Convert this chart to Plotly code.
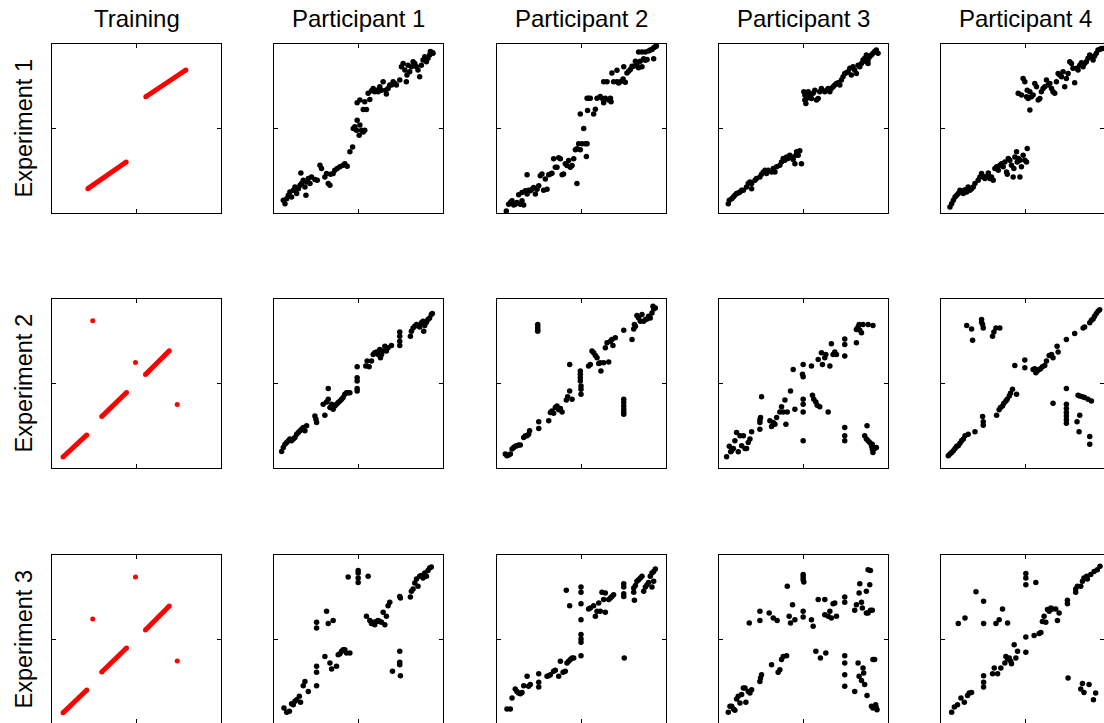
import plotly.graph_objects as go

# ---------------------------------------------------------------------------
# Labels
# ---------------------------------------------------------------------------
col_titles = ["Training", "Participant 1", "Participant 2", "Participant 3", "Participant 4"]
row_titles = ["Experiment 1", "Experiment 2", "Experiment 3"]
tick_values = [50]

# ---------------------------------------------------------------------------
# Training stimuli: continuous segments (start, end) and isolated items
# ---------------------------------------------------------------------------
train_e1_segments = [((21.2, 14.4), (43.9, 30.2)), ((55.5, 68.8), (79.2, 84.6))]
train_e1_points = []
train_e2_segments = [((6.5, 6.5), (20.6, 19.6)), ((29.4, 30.4), (44.1, 44.7)), ((55.3, 55.3), (69.4, 69.4))]
train_e2_points = [(24.1, 87.1), (49.4, 62.4), (74.1, 37.6)]
train_e3_segments = [((6.5, 6.6), (20.6, 20.1)), ((29.4, 30.8), (44.1, 45.0)), ((55.3, 55.6), (69.4, 69.8))]
train_e3_points = [(24.1, 62.1), (49.4, 87.0), (74.1, 37.3)]

# ---------------------------------------------------------------------------
# Participant responses (x, y) per experiment
# ---------------------------------------------------------------------------
p1_e1 = [(5.5, 7.5), (6.5, 5.5), (7.5, 8.5), (8.5, 10.5), (9.4, 12.5), (10.4, 9.5), (11.4, 13.4), (12.4, 15.4),
         (13.4, 11.5), (14.4, 14.4), (15.4, 16.4), (15.9, 23.7), (16.3, 17.4), (17.3, 19.4), (18.3, 15.4),
         (18.9, 10.5), (19.3, 18.4), (20.3, 20.4), (21.3, 17.4), (22.2, 21.3), (24.2, 19.8), (25.6, 19.4),
         (27.2, 28.3), (28.1, 26.3), (30.1, 21.3), (31.1, 23.3), (32.1, 17.4), (33.1, 16.4), (33.5, 22.9),
         (35.0, 23.3), (36.0, 25.3), (37.4, 26.3), (39.0, 27.3), (40.9, 28.3), (41.9, 29.2), (43.3, 27.7),
         (44.9, 36.2), (46.5, 39.1), (46.9, 50.0), (47.8, 51.0), (48.8, 49.0), (49.2, 54.9), (50.4, 46.0),
         (50.8, 52.0), (51.8, 49.0), (52.8, 48.0), (53.7, 49.0), (49.2, 65.2), (50.8, 66.8), (52.8, 61.3),
         (53.7, 65.8), (54.7, 61.3), (55.7, 70.8), (56.7, 67.2), (57.7, 72.3), (58.7, 73.7), (59.6, 71.7),
         (60.6, 72.7), (61.6, 71.7), (62.6, 74.7), (63.6, 72.7), (64.6, 77.7), (66.1, 72.7), (66.5, 70.4),
         (67.5, 73.7), (68.5, 75.7), (69.5, 75.7), (70.5, 77.7), (71.5, 76.7), (72.4, 75.7), (74.4, 78.7),
         (75.4, 86.6), (76.4, 88.5), (77.4, 84.6), (78.3, 77.7), (78.7, 81.6), (79.3, 87.5), (80.3, 83.6),
         (81.3, 86.6), (82.3, 89.5), (83.3, 88.5), (84.3, 86.6), (85.2, 84.6), (86.2, 80.6), (87.2, 87.5),
         (88.2, 90.5), (89.2, 92.5), (90.2, 89.5), (91.1, 91.5), (92.1, 93.5), (92.5, 95.5), (93.7, 94.9),
         (94.1, 94.5)]

p2_e1 = [(5.5, 1.2), (6.9, 5.2), (7.9, 6.2), (8.9, 7.2), (9.9, 4.8), (10.8, 5.2), (11.8, 6.2), (12.8, 10.8),
         (13.8, 5.2), (14.8, 7.2), (15.8, 4.8), (14.8, 12.2), (16.8, 13.1), (17.8, 22.7), (17.8, 11.2),
         (18.7, 13.5), (19.7, 13.1), (20.7, 14.1), (21.7, 15.1), (22.7, 11.2), (23.7, 14.1), (24.7, 16.1),
         (25.6, 22.1), (26.6, 23.1), (27.6, 13.5), (28.6, 20.1), (29.6, 14.1), (30.6, 22.7), (31.6, 23.1),
         (32.5, 23.5), (33.5, 32.1), (34.5, 27.1), (35.5, 27.1), (36.5, 32.7), (37.5, 32.1), (38.5, 22.7),
         (39.4, 23.1), (40.4, 29.1), (41.4, 28.1), (42.4, 31.1), (43.4, 27.1), (44.4, 28.1), (45.4, 32.1),
         (46.4, 37.5), (47.3, 17.5), (47.3, 38.0), (48.3, 41.0), (49.3, 37.5), (50.3, 41.0), (51.3, 50.0),
         (52.3, 41.0), (53.3, 41.0), (52.9, 33.5), (49.3, 58.6), (53.3, 67.9), (53.6, 60.6), (54.2, 67.9),
         (55.2, 67.9), (57.2, 58.6), (58.2, 61.4), (59.2, 67.9), (61.1, 68.9), (62.1, 67.9), (63.1, 65.3),
         (64.1, 67.9), (66.1, 66.9), (67.1, 67.9), (67.5, 65.9), (63.1, 77.7), (65.1, 77.7), (68.0, 82.9),
         (69.0, 77.7), (71.0, 84.5), (71.0, 77.7), (72.0, 76.9), (73.0, 77.7), (74.6, 79.3), (75.9, 77.3),
         (75.0, 86.5), (76.9, 82.9), (77.9, 83.9), (78.9, 84.9), (79.9, 86.9), (80.9, 86.9), (81.9, 89.8),
         (82.8, 87.8), (83.8, 85.9), (84.8, 89.8), (85.8, 86.5), (86.8, 91.2), (87.8, 90.4), (88.8, 90.8),
         (83.8, 95.2), (85.8, 95.2), (87.8, 95.2), (89.7, 95.8), (90.7, 96.4), (91.7, 96.8), (92.7, 97.8),
         (93.7, 98.4), (94.3, 98.8), (92.7, 91.2)]

p3_e1 = [(5.5, 5.5), (6.1, 7.5), (7.5, 8.5), (8.5, 9.5), (9.4, 10.5), (10.4, 11.5), (11.4, 11.9), (12.4, 12.5),
         (13.4, 13.4), (14.4, 13.4), (16.3, 15.4), (17.3, 17.4), (18.3, 18.4), (19.3, 17.4), (19.3, 14.4),
         (21.3, 19.4), (22.2, 20.4), (24.2, 21.3), (25.2, 22.9), (26.2, 24.3), (27.2, 25.3), (28.1, 23.3),
         (29.1, 25.3), (31.1, 24.3), (32.1, 26.3), (33.1, 24.3), (34.1, 27.3), (36.0, 28.3), (37.0, 30.2),
         (38.0, 32.2), (39.0, 31.2), (40.0, 33.2), (40.9, 32.2), (41.9, 34.2), (42.9, 33.2), (43.9, 31.6),
         (44.9, 29.2), (45.5, 34.2), (45.9, 36.2), (46.9, 34.2), (47.8, 36.8), (48.8, 29.2),
         (50.2, 71.7), (50.8, 69.8), (50.8, 66.8), (51.4, 64.8), (51.8, 67.8), (52.8, 71.7), (53.7, 69.8),
         (54.7, 67.8), (55.7, 70.8), (56.7, 72.7), (57.7, 66.8), (58.7, 67.8), (59.6, 71.7), (60.6, 73.7),
         (62.6, 71.7), (63.6, 72.7), (64.6, 73.7), (65.6, 71.7), (66.5, 73.7), (67.5, 74.7), (68.5, 75.7),
         (69.5, 76.7), (70.5, 77.1), (71.5, 75.7), (72.4, 78.7), (73.4, 80.6), (74.4, 82.6), (75.4, 83.0),
         (76.4, 83.6), (77.4, 85.6), (78.3, 81.6), (79.3, 86.6), (80.3, 84.6), (81.3, 82.6), (82.3, 87.5),
         (83.3, 86.6), (84.3, 88.5), (85.2, 90.5), (86.2, 91.5), (87.2, 89.5), (88.2, 90.5), (89.2, 92.5),
         (90.2, 93.5), (91.1, 94.5), (92.1, 95.5), (93.1, 96.4), (94.1, 94.5), (87.2, 93.5), (88.2, 88.5)]

p4_e1 = [(5.3, 3.6), (6.3, 5.5), (7.3, 7.5), (8.3, 9.5), (9.3, 10.5), (10.2, 11.5), (11.2, 13.4), (12.2, 13.0),
         (13.2, 11.5), (14.2, 13.8), (15.2, 12.5), (16.1, 15.4), (17.1, 13.4), (18.1, 14.4), (19.1, 15.4),
         (20.1, 17.4), (22.0, 19.4), (23.0, 21.3), (24.0, 23.3), (25.0, 21.3), (26.0, 20.4), (27.0, 21.7),
         (28.0, 23.7), (28.9, 20.4), (29.9, 21.3), (30.9, 19.4), (31.9, 26.3), (32.9, 27.3), (33.9, 25.3),
         (34.8, 28.3), (35.8, 29.2), (36.8, 27.3), (37.8, 30.2), (38.8, 24.3), (39.2, 22.9), (39.8, 32.2),
         (40.7, 31.2), (41.7, 28.3), (42.7, 21.3), (43.1, 26.3), (43.7, 33.2), (44.7, 36.2), (45.1, 30.2),
         (45.7, 32.2), (46.7, 31.2), (46.7, 21.3), (47.6, 27.3), (48.6, 34.2), (49.6, 31.2), (50.6, 30.2),
         (51.0, 38.1),
         (45.7, 70.8), (47.6, 69.8), (48.6, 79.6), (49.6, 77.7), (50.6, 68.8), (51.0, 72.7), (51.6, 67.8),
         (52.6, 60.9), (52.6, 71.7), (53.5, 68.8), (54.5, 69.8), (55.5, 76.7), (56.5, 74.7), (57.5, 66.8),
         (58.5, 67.8), (59.4, 71.7), (60.4, 73.7), (61.4, 74.7), (62.4, 78.7), (63.4, 75.7), (64.4, 76.7),
         (65.4, 73.7), (66.3, 71.7), (67.3, 70.8), (68.3, 77.7), (69.3, 82.6), (70.3, 81.6), (71.3, 80.6),
         (72.2, 83.6), (73.2, 74.7), (74.2, 79.6), (75.2, 82.6), (76.2, 89.5), (77.2, 88.5), (78.1, 85.6),
         (79.1, 77.1), (80.1, 85.6), (81.1, 84.6), (82.1, 87.5), (83.1, 88.9), (84.1, 86.6), (85.0, 88.5),
         (86.0, 89.5), (87.0, 91.5), (88.0, 93.5), (89.0, 92.5), (90.0, 90.5), (90.9, 92.9), (91.9, 94.5),
         (92.9, 96.4), (93.9, 96.8), (94.9, 97.4), (95.9, 97.4)]

p1_e2 = [(4.5, 9.8), (5.5, 12.2), (6.5, 14.1), (7.5, 15.1), (8.5, 16.1), (9.4, 17.1), (10.4, 16.1), (11.4, 17.1),
         (12.4, 18.1), (13.4, 20.0), (14.4, 21.0), (15.4, 22.0), (16.3, 23.0), (17.3, 24.0), (18.3, 22.0),
         (19.3, 25.0), (24.2, 30.8), (24.8, 28.9), (25.2, 26.9), (30.1, 31.2), (29.1, 37.7), (31.1, 39.1),
         (32.1, 47.0), (32.1, 40.7), (33.1, 35.8), (34.1, 37.7), (35.0, 34.8), (36.0, 36.7), (37.0, 37.7),
         (38.0, 38.7), (39.0, 39.7), (40.0, 40.7), (40.9, 41.7), (41.9, 43.6), (42.9, 44.6), (43.9, 44.6),
         (44.9, 44.6), (49.2, 59.9), (49.2, 53.4), (49.2, 51.5), (49.2, 47.0), (49.2, 45.6), (54.3, 60.3),
         (55.1, 63.3), (56.3, 59.9), (57.7, 63.3), (58.7, 67.2), (59.6, 68.2), (60.6, 68.6), (61.6, 67.2),
         (62.6, 70.1), (63.0, 65.2), (63.6, 67.2), (64.6, 69.2), (65.6, 72.1), (66.5, 69.2), (67.5, 71.1),
         (69.5, 72.5), (74.4, 80.4), (74.4, 78.0), (74.4, 75.0), (74.4, 72.5), (80.7, 78.0), (81.3, 80.9),
         (82.3, 82.9), (83.3, 83.9), (84.3, 84.9), (85.2, 84.3), (86.2, 83.5), (87.2, 85.9), (88.2, 86.8),
         (88.6, 80.9), (89.2, 84.3), (90.2, 86.2), (91.1, 87.8), (92.1, 88.8), (93.1, 90.8), (93.7, 91.4)]

p2_e2 = [(4.9, 8.3), (5.9, 7.3), (6.9, 7.7), (7.9, 8.3), (8.9, 11.2), (9.9, 12.2), (10.8, 12.8), (11.8, 13.2),
         (12.8, 13.6), (13.8, 13.6), (15.8, 18.1), (16.8, 19.1), (17.8, 19.1), (18.7, 20.0), (19.3, 22.0),
         (24.7, 27.3), (24.7, 23.4), (30.6, 27.9), (31.6, 32.8), (32.5, 33.8), (33.5, 32.4), (34.5, 35.8),
         (35.5, 36.7), (36.5, 34.4), (37.5, 35.2), (38.5, 33.2), (41.0, 40.3), (41.8, 42.2), (43.0, 45.6),
         (44.4, 40.7), (43.0, 61.3), (49.3, 57.4), (49.3, 55.4), (49.3, 53.4), (49.3, 51.5), (49.7, 48.5),
         (49.7, 46.6), (49.7, 43.6), (54.2, 60.3), (55.2, 61.3), (56.2, 69.2), (57.2, 68.2), (58.2, 66.6),
         (59.2, 65.2), (60.2, 61.9), (61.1, 62.3), (61.5, 57.4), (63.1, 62.3), (64.1, 71.1), (65.1, 74.1),
         (66.1, 62.7), (67.1, 75.0), (68.0, 76.0), (68.6, 72.5), (70.0, 77.0), (75.0, 81.5), (79.9, 76.0),
         (80.9, 82.3), (81.3, 84.9), (81.9, 83.9), (82.8, 90.2), (83.8, 88.8), (84.8, 86.8), (85.8, 90.8),
         (86.8, 86.8), (87.8, 87.8), (88.8, 88.2), (89.7, 89.8), (90.7, 88.8), (91.7, 91.7), (92.3, 95.7),
         (92.7, 94.1), (93.7, 94.7), (24.1, 84.9), (24.1, 83.5), (24.1, 81.9), (24.1, 80.9), (75.0, 40.7),
         (75.0, 38.7), (75.0, 36.7), (75.0, 34.8), (75.0, 33.2), (75.0, 31.8)]

p3_e2 = [(4.5, 6.7), (6.1, 12.8), (6.9, 9.6), (7.5, 10.2), (8.5, 11.6), (9.4, 16.1), (10.4, 21.0), (11.4, 9.6),
         (12.4, 19.1), (13.4, 13.2), (14.4, 19.1), (15.4, 11.6), (16.3, 11.6), (17.3, 15.1), (18.3, 17.1),
         (19.3, 21.4), (24.2, 23.0), (24.2, 26.9), (24.6, 29.9), (24.2, 28.5), (25.2, 42.2), (30.1, 27.9),
         (31.1, 24.6), (32.1, 26.9), (33.1, 25.9), (34.1, 29.9), (36.0, 33.2), (37.0, 36.3), (38.0, 33.2),
         (39.0, 40.3), (39.6, 25.9), (40.4, 33.2), (42.3, 45.6), (43.9, 58.3), (44.9, 34.8), (49.8, 61.3),
         (49.4, 55.4), (49.8, 54.0), (49.8, 40.7), (49.8, 37.7), (49.8, 33.2), (49.8, 16.1), (54.7, 60.3),
         (55.3, 43.0), (56.1, 40.7), (57.3, 39.1), (58.1, 37.1), (58.7, 64.2), (59.6, 36.3), (60.6, 68.2),
         (61.2, 61.3), (62.6, 65.2), (63.2, 67.2), (64.6, 33.2), (65.6, 60.3), (66.5, 73.5), (67.5, 67.2),
         (68.5, 68.6), (69.5, 67.2), (74.4, 76.4), (74.4, 73.1), (74.4, 66.2), (74.4, 24.0), (74.4, 19.1),
         (74.4, 16.1), (81.3, 81.9), (81.3, 74.1), (81.7, 82.3), (82.3, 83.5), (82.9, 84.9), (83.3, 81.5),
         (84.3, 80.0), (85.2, 84.9), (88.2, 84.9), (91.1, 84.3), (86.2, 19.1), (87.2, 17.1), (87.6, 25.0),
         (88.2, 16.1), (89.2, 15.1), (90.2, 13.2), (90.7, 11.2), (91.1, 9.2), (92.1, 11.6), (93.1, 12.2),
         (90.7, 14.1)]

p4_e2 = [(4.3, 7.3), (5.3, 8.3), (6.3, 9.2), (7.3, 10.2), (8.3, 11.6), (9.3, 12.8), (10.2, 13.2), (11.2, 14.7),
         (12.2, 16.1), (13.2, 17.1), (14.2, 19.1), (16.1, 20.0), (20.1, 21.4), (24.6, 30.5), (25.0, 27.3),
         (25.0, 25.3), (32.9, 31.2), (34.4, 34.4), (35.2, 35.8), (36.4, 36.7), (37.2, 38.3), (38.4, 39.7),
         (39.2, 40.7), (40.4, 42.6), (41.1, 44.2), (42.3, 46.6), (44.7, 43.6), (43.7, 60.7), (49.6, 63.9),
         (49.6, 59.3), (54.5, 58.3), (55.5, 58.7), (56.1, 56.4), (56.9, 57.4), (58.1, 58.3), (58.9, 58.7),
         (60.0, 59.9), (61.4, 60.7), (62.4, 63.3), (64.0, 66.6), (65.4, 67.2), (66.3, 65.2), (68.7, 72.1),
         (69.3, 68.6), (74.2, 76.0), (79.1, 79.6), (84.1, 82.9), (85.0, 83.5), (88.0, 85.9), (89.0, 87.4),
         (90.0, 88.2), (90.9, 89.8), (91.9, 91.4), (92.9, 92.7), (93.9, 93.7), (15.2, 84.3), (18.1, 82.3),
         (18.7, 75.6), (24.0, 87.8), (24.0, 86.2), (24.6, 84.9), (25.0, 82.9), (30.5, 78.0), (31.3, 80.4),
         (32.5, 82.9), (34.8, 82.9), (66.3, 38.3), (74.2, 47.0), (74.2, 37.7), (74.2, 35.2), (74.2, 32.8),
         (74.2, 30.8), (74.2, 28.5), (74.2, 26.5), (81.1, 43.0), (82.1, 42.6), (83.7, 42.2), (85.0, 41.7),
         (87.0, 40.7), (89.0, 39.7), (80.5, 27.3), (81.7, 21.4), (82.1, 31.2), (88.0, 18.7), (88.0, 14.1)]

p1_e3 = [(5.9, 9.5), (7.5, 6.9), (9.1, 7.5), (10.4, 12.0), (11.4, 11.4), (12.4, 13.4), (13.4, 14.4), (15.0, 16.4),
         (15.7, 12.8), (17.3, 22.7), (18.3, 25.2), (20.3, 19.3), (25.2, 22.7), (25.2, 30.6), (25.2, 34.1),
         (30.1, 40.0), (33.1, 36.1), (34.1, 32.5), (37.0, 34.1), (38.0, 41.0), (39.0, 41.6), (40.0, 43.0),
         (40.9, 44.0), (41.9, 44.0), (42.9, 42.0), (44.9, 42.0), (25.2, 60.2), (25.2, 56.8), (31.1, 66.7),
         (32.1, 59.4), (35.0, 61.3), (43.9, 87.0), (49.8, 90.9), (49.8, 89.3), (49.8, 86.4), (49.8, 83.8),
         (55.7, 87.4), (54.7, 63.7), (56.7, 61.3), (57.7, 59.4), (58.7, 60.2), (59.6, 58.8), (60.6, 60.7),
         (61.6, 61.3), (62.6, 60.7), (63.6, 60.2), (64.6, 66.1), (65.6, 58.8), (66.5, 63.7), (67.5, 70.0),
         (68.5, 72.0), (74.4, 75.5), (74.8, 74.6), (80.7, 75.1), (81.3, 78.5), (82.3, 79.9), (83.3, 83.4),
         (84.3, 85.8), (85.2, 81.5), (86.2, 87.4), (87.2, 87.8), (88.2, 86.4), (89.2, 89.3), (90.2, 87.4),
         (91.1, 90.9), (92.1, 92.3), (93.1, 92.9), (70.1, 31.2), (74.4, 43.0), (74.4, 36.5), (74.4, 35.1),
         (74.8, 28.6)]

p2_e3 = [(5.9, 8.9), (7.9, 8.9), (8.9, 15.4), (10.8, 20.7), (11.8, 19.3), (12.8, 18.3), (13.8, 17.9), (14.8, 18.7),
         (15.8, 22.7), (17.8, 28.2), (18.7, 22.3), (19.7, 23.3), (24.7, 29.8), (24.7, 24.7), (24.7, 21.9),
         (29.6, 28.2), (30.6, 28.6), (31.6, 29.2), (33.5, 31.2), (34.5, 31.8), (36.5, 28.2), (37.5, 37.1),
         (39.1, 30.6), (40.4, 31.2), (41.4, 36.1), (42.4, 37.1), (43.4, 38.1), (44.4, 39.1), (45.4, 39.1),
         (49.7, 40.4), (49.7, 48.3), (49.7, 50.3), (49.7, 52.9), (49.7, 61.7), (49.7, 71.2), (49.7, 77.9),
         (49.7, 81.1), (41.0, 79.1), (43.0, 70.0), (54.2, 68.0), (55.2, 68.6), (57.2, 70.0), (58.2, 63.7),
         (59.2, 66.7), (60.2, 71.6), (61.1, 66.7), (62.1, 77.9), (63.1, 73.6), (64.1, 77.5), (64.1, 66.1),
         (66.1, 73.6), (67.1, 74.6), (68.0, 75.5), (69.0, 76.5), (75.0, 83.0), (75.0, 81.1), (75.0, 77.1),
         (75.0, 75.5), (75.3, 39.1), (80.9, 80.5), (80.9, 77.9), (81.3, 73.2), (81.9, 81.9), (82.8, 84.4),
         (83.8, 85.4), (84.8, 86.4), (85.8, 87.4), (86.8, 78.5), (87.8, 81.1), (88.8, 82.4), (89.7, 83.8),
         (90.7, 87.4), (91.7, 89.3), (92.7, 90.3), (93.7, 91.7), (91.7, 81.1), (92.7, 84.4)]

p3_e3 = [(5.5, 6.9), (6.5, 10.5), (7.5, 10.5), (8.5, 8.9), (9.4, 8.1), (10.4, 14.8), (11.4, 16.4), (12.4, 12.4),
         (13.4, 17.4), (14.4, 21.3), (15.4, 21.3), (15.9, 12.8), (17.3, 19.3), (18.3, 18.3), (19.3, 20.3),
         (24.2, 25.2), (24.6, 27.2), (25.2, 29.2), (31.1, 35.1), (35.0, 30.6), (36.0, 32.1), (37.0, 38.1),
         (38.0, 40.0), (40.0, 40.4), (17.9, 59.8), (24.2, 66.7), (24.2, 61.3), (29.7, 65.7), (32.1, 62.7),
         (34.4, 61.3), (40.4, 81.5), (41.5, 63.7), (42.3, 59.8), (43.5, 70.6), (44.9, 61.7), (49.8, 66.7),
         (49.8, 63.3), (49.8, 88.4), (49.8, 87.0), (49.8, 85.4), (50.2, 84.0), (54.7, 61.7), (55.7, 57.8),
         (57.3, 43.0), (58.7, 73.6), (60.0, 39.1), (62.6, 73.6), (62.6, 64.7), (63.2, 42.0), (64.6, 63.7),
         (65.6, 66.7), (66.5, 62.7), (67.5, 71.2), (68.5, 71.6), (69.5, 63.7), (74.4, 75.1), (74.4, 72.0),
         (74.4, 40.4), (74.4, 36.1), (74.4, 29.2), (74.4, 22.3), (80.3, 19.3), (80.3, 67.3), (81.3, 70.6),
         (82.3, 36.1), (82.9, 77.5), (83.3, 83.0), (82.9, 28.2), (84.3, 72.0), (84.3, 25.8), (84.8, 68.6),
         (85.2, 33.1), (85.6, 30.2), (86.2, 23.3), (87.2, 78.5), (87.2, 65.7), (87.6, 16.8), (88.2, 65.7),
         (89.2, 82.4), (89.6, 67.3), (90.7, 67.3), (88.2, 91.3), (89.6, 90.9), (91.1, 38.1), (92.1, 38.1),
         (90.2, 10.5), (91.1, 9.5), (92.1, 10.5), (93.1, 9.5), (93.5, 8.5), (92.7, 11.4)]

p4_e3 = [(6.3, 6.9), (7.9, 10.1), (9.8, 11.4), (11.8, 15.4), (13.8, 12.8), (15.7, 16.8), (16.7, 18.3), (18.1, 18.7),
         (25.2, 28.6), (25.2, 24.7), (25.2, 21.9), (30.5, 29.8), (31.5, 33.1), (33.5, 29.8), (35.4, 33.1),
         (37.8, 36.1), (38.4, 40.0), (39.4, 38.5), (40.4, 39.1), (41.3, 37.1), (41.7, 35.7), (43.3, 46.9),
         (44.3, 39.1), (45.3, 43.0), (50.2, 51.5), (50.2, 42.4), (55.1, 52.3), (58.1, 53.5), (59.1, 54.2),
         (60.0, 60.7), (61.0, 63.7), (62.0, 60.2), (63.0, 67.7), (64.0, 66.7), (65.0, 68.6), (65.9, 68.0),
         (67.9, 68.0), (68.9, 61.3), (69.9, 65.7), (74.8, 73.2), (74.8, 71.2), (79.7, 77.9), (79.7, 79.9),
         (80.7, 81.5), (82.7, 81.5), (83.7, 84.4), (84.6, 86.4), (86.2, 87.4), (86.6, 85.8), (88.6, 88.4),
         (90.6, 90.3), (92.5, 91.3), (94.1, 93.3), (10.2, 59.4), (14.2, 62.7), (20.7, 78.3), (25.2, 72.6),
         (25.2, 59.4), (32.5, 59.4), (34.4, 61.7), (36.4, 68.0), (39.4, 59.8), (50.2, 89.0), (50.2, 86.4),
         (50.2, 82.4), (56.1, 83.8), (75.2, 27.2), (82.7, 20.7), (83.7, 23.9), (87.6, 23.3), (84.6, 18.7),
         (90.2, 14.4), (91.5, 18.3)]

training = [
    (train_e1_segments, train_e1_points),
    (train_e2_segments, train_e2_points),
    (train_e3_segments, train_e3_points),
]
responses = [
    [p1_e1, p2_e1, p3_e1, p4_e1],
    [p1_e2, p2_e2, p3_e2, p4_e2],
    [p1_e3, p2_e3, p3_e3, p4_e3],
]

# ---------------------------------------------------------------------------
# Page geometry (pixels)
# ---------------------------------------------------------------------------
W, H = 1104, 723
PANEL = 169
COL_LEFT = [52, 274, 497, 719, 941]
ROW_TOP = [44, 299, 555]
FONT = "Liberation Sans, Arial, sans-serif"
RED = "#ff0000"

fig = go.Figure()
layout = {}

for r in range(3):
    for c in range(5):
        k = r * 5 + c + 1
        sfx = "" if k == 1 else str(k)

        # horizontal domain, clipped at the page edge
        x0 = COL_LEFT[c]
        x1 = min(x0 + PANEL, W)
        xr = [0, 100 * (x1 - x0) / PANEL]
        # vertical domain, clipped at the page edge
        top = ROW_TOP[r]
        bot = top + PANEL
        bot_c = min(bot, H)
        yr = [100 * (bot - bot_c) / PANEL, 100]

        axis_style = dict(
            showline=True, linecolor="black", linewidth=1.3, mirror="ticks",
            ticks="inside", ticklen=4, tickwidth=1, tickcolor="black",
            tickvals=tick_values, showticklabels=False,
            showgrid=False, zeroline=False, fixedrange=True,
        )
        layout["xaxis" + sfx] = dict(axis_style, domain=[x0 / W, x1 / W], range=xr,
                                     anchor="y" + sfx)
        layout["yaxis" + sfx] = dict(axis_style, domain=[1 - bot_c / H, 1 - top / H], range=yr,
                                     anchor="x" + sfx)

        xa, ya = "x" + sfx, "y" + sfx
        if c == 0:
            segs, pts = training[r]
            for (a, b) in segs:
                fig.add_trace(go.Scatter(
                    x=[a[0], b[0]], y=[a[1], b[1]], xaxis=xa, yaxis=ya,
                    mode="lines+markers", line=dict(color=RED, width=5),
                    marker=dict(color=RED, size=5), hoverinfo="skip", showlegend=False))
            if pts:
                px, py = zip(*pts)
                fig.add_trace(go.Scatter(
                    x=list(px), y=list(py), xaxis=xa, yaxis=ya, mode="markers",
                    marker=dict(color=RED, size=5), hoverinfo="skip", showlegend=False))
        else:
            px, py = zip(*responses[r][c - 1])
            fig.add_trace(go.Scatter(
                x=list(px), y=list(py), xaxis=xa, yaxis=ya, mode="markers",
                marker=dict(color="black", size=5.5, line=dict(width=0)),
                hoverinfo="skip", showlegend=False))

annotations = []
for c, title in enumerate(col_titles):
    annotations.append(dict(
        text=title, x=(COL_LEFT[c] + PANEL / 2) / W, y=1 - 18 / H,
        xref="paper", yref="paper", xanchor="center", yanchor="middle",
        showarrow=False, font=dict(family=FONT, size=24, color="black")))
for r, title in enumerate(row_titles):
    annotations.append(dict(
        text=title, x=23 / W, y=1 - (ROW_TOP[r] + PANEL / 2) / H,
        xref="paper", yref="paper", xanchor="center", yanchor="middle",
        textangle=-90, showarrow=False, font=dict(family=FONT, size=23.5, color="black")))

fig.update_layout(
    width=W, height=H,
    margin=dict(l=0, r=0, t=0, b=0),
    paper_bgcolor="white", plot_bgcolor="white",
    annotations=annotations,
    **layout,
)

fig.write_html("out.html", include_plotlyjs=True, config={"displayModeBar": False})
